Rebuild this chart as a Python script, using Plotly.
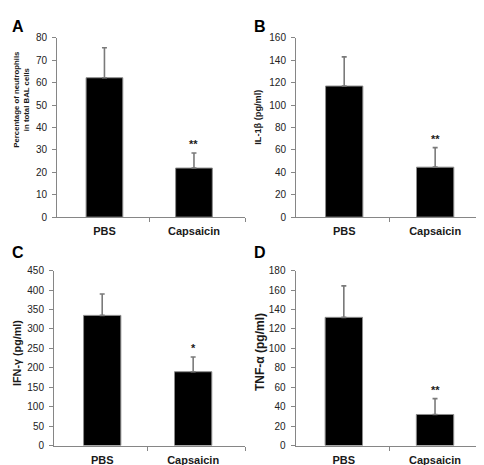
import plotly.graph_objects as go

categories = ["PBS", "Capsaicin"]

neut_vals = [62.2, 21.9]
neut_err = [13.4, 6.7]
il1b_vals = [117, 44.6]
il1b_err = [26, 17.4]
ifng_vals = [335, 190]
ifng_err = [55, 38]
tnfa_vals = [132, 32]
tnfa_err = [32.4, 16.3]

sig_marks = ["**", "**", "*", "**"]

panels = [
    ("A", neut_vals, neut_err, "Percentage of neutrophils<br>in total BAL cells", 80, 10, sig_marks[0]),
    ("B", il1b_vals, il1b_err, "IL-1β (pg/ml)", 160, 20, sig_marks[1]),
    ("C", ifng_vals, ifng_err, "IFN-γ (pg/ml)", 450, 50, sig_marks[2]),
    ("D", tnfa_vals, tnfa_err, "TNF-α (pg/ml)", 180, 20, sig_marks[3]),
]

W, H = 484, 465
# pixel geometry of each panel: (x_left, x_right, y_top, y_bottom)
geom = [
    (49, 237, 24.5, 208.5),
    (288, 479, 24.5, 208.5),
    (46, 237, 263.5, 443),
    (287.5, 479, 263.5, 443),
]
# y-title centre (px) and font size
title_pos = [(14, 88, 7.8), (250.5, 106, 9.2), (8.5, 348.5, 10.8), (251.5, 346.5, 12)]

FONT = "Arial, 'Liberation Sans', sans-serif"
AXCOL = "#868686"

fig = go.Figure()
layout = dict(
    width=W, height=H,
    margin=dict(l=0, r=0, t=0, b=0),
    paper_bgcolor="white", plot_bgcolor="white",
    showlegend=False,
    font=dict(family=FONT, color="#1a1a1a"),
    annotations=[],
)

xs = [0, 1]
for i, (letter, vals, errs, ytitle, ymax, dt, sig) in enumerate(panels):
    xl, xr, yt, yb = geom[i]
    n = "" if i == 0 else str(i + 1)
    xa = "x" + n
    ya = "y" + n
    fig.add_trace(go.Bar(
        x=xs, y=vals, xaxis=xa, yaxis=ya,
        marker=dict(color="black", line=dict(color="#8c8c8c", width=1)),
        width=0.41,
        error_y=dict(type="data", symmetric=False, array=errs,
                     arrayminus=[0] * len(errs),
                     color="#7a7a7a", thickness=1.6, width=2.5),
    ))
    layout["xaxis" + n] = dict(
        domain=[xl / W, xr / W], anchor=ya,
        range=[-0.53, 1.57], tickmode="array", tickvals=xs, ticktext=categories,
        ticks="", showline=True, linecolor=AXCOL, linewidth=1,
        showgrid=False, zeroline=False,
        tickfont=dict(family=FONT, size=11, color="#1a1a1a", weight="bold"),
        ticklabelstandoff=4,
        minor=dict(tickmode="array", tickvals=[0.5, 1.57], ticks="outside",
                   ticklen=4, tickcolor=AXCOL, tickwidth=1),
        fixedrange=True,
    )
    layout["yaxis" + n] = dict(
        domain=[1 - yb / H, 1 - yt / H], anchor=xa,
        range=[0, ymax], tickmode="linear", tick0=0, dtick=dt,
        ticks="outside", ticklen=4, tickcolor=AXCOL, tickwidth=1,
        showline=True, linecolor=AXCOL, linewidth=1,
        showgrid=False, zeroline=False,
        tickfont=dict(family=FONT, size=10, color="#222222"),
        ticklabelstandoff=3,
        fixedrange=True,
    )
    tx, ty, ts = title_pos[i]
    layout["annotations"].append(dict(
        x=tx / W, y=1 - ty / H, xref="paper", yref="paper",
        xanchor="center", yanchor="middle", textangle=-90,
        text=ytitle, showarrow=False,
        font=dict(family=FONT, size=ts, color="#1a1a1a", weight="bold"),
    ))
    # significance marks
    layout["annotations"].append(dict(
        x=xs[1], y=vals[1] + errs[1], xref=xa, yref=ya,
        text=sig, showarrow=False, yanchor="bottom", yshift=1,
        font=dict(family=FONT, size=11, color="#1a1a1a", weight="bold"),
    ))
    # panel letter
    lx = 2 if i % 2 == 0 else 244
    ly = 2 if i < 2 else 234
    layout["annotations"].append(dict(
        x=lx / W, y=1 - ly / H, xref="paper", yref="paper",
        xanchor="left", yanchor="top", text=letter, showarrow=False,
        font=dict(family=FONT, size=16, color="black", weight="bold"),
    ))

fig.update_layout(**layout)
fig.write_html("out.html")
